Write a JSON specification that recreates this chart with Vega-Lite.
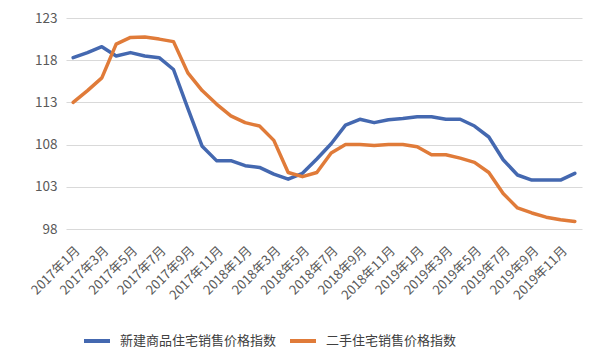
{
  "$schema": "https://vega.github.io/schema/vega-lite/v6.json",
  "autosize": {"type": "none"},
  "width": 516,
  "height": 211,
  "padding": {"left": 66, "top": 18, "right": 18, "bottom": 131},
  "background": "white",
  "config": {"view": {"stroke": null}, "font": "Noto Sans CJK SC"},
  "data": {"values": [
    {"month":"2017年1月","series":"新建商品住宅销售价格指数","value":118.3},
    {"month":"2017年2月","series":"新建商品住宅销售价格指数","value":118.9},
    {"month":"2017年3月","series":"新建商品住宅销售价格指数","value":119.6},
    {"month":"2017年4月","series":"新建商品住宅销售价格指数","value":118.5},
    {"month":"2017年5月","series":"新建商品住宅销售价格指数","value":118.9},
    {"month":"2017年6月","series":"新建商品住宅销售价格指数","value":118.5},
    {"month":"2017年7月","series":"新建商品住宅销售价格指数","value":118.3},
    {"month":"2017年8月","series":"新建商品住宅销售价格指数","value":116.9},
    {"month":"2017年9月","series":"新建商品住宅销售价格指数","value":112.3},
    {"month":"2017年10月","series":"新建商品住宅销售价格指数","value":107.8},
    {"month":"2017年11月","series":"新建商品住宅销售价格指数","value":106.1},
    {"month":"2017年12月","series":"新建商品住宅销售价格指数","value":106.1},
    {"month":"2018年1月","series":"新建商品住宅销售价格指数","value":105.5},
    {"month":"2018年2月","series":"新建商品住宅销售价格指数","value":105.3},
    {"month":"2018年3月","series":"新建商品住宅销售价格指数","value":104.5},
    {"month":"2018年4月","series":"新建商品住宅销售价格指数","value":103.9},
    {"month":"2018年5月","series":"新建商品住宅销售价格指数","value":104.6},
    {"month":"2018年6月","series":"新建商品住宅销售价格指数","value":106.3},
    {"month":"2018年7月","series":"新建商品住宅销售价格指数","value":108.1},
    {"month":"2018年8月","series":"新建商品住宅销售价格指数","value":110.3},
    {"month":"2018年9月","series":"新建商品住宅销售价格指数","value":111.0},
    {"month":"2018年10月","series":"新建商品住宅销售价格指数","value":110.6},
    {"month":"2018年11月","series":"新建商品住宅销售价格指数","value":110.95},
    {"month":"2018年12月","series":"新建商品住宅销售价格指数","value":111.1},
    {"month":"2019年1月","series":"新建商品住宅销售价格指数","value":111.3},
    {"month":"2019年2月","series":"新建商品住宅销售价格指数","value":111.3},
    {"month":"2019年3月","series":"新建商品住宅销售价格指数","value":111.0},
    {"month":"2019年4月","series":"新建商品住宅销售价格指数","value":111.0},
    {"month":"2019年5月","series":"新建商品住宅销售价格指数","value":110.2},
    {"month":"2019年6月","series":"新建商品住宅销售价格指数","value":108.9},
    {"month":"2019年7月","series":"新建商品住宅销售价格指数","value":106.2},
    {"month":"2019年8月","series":"新建商品住宅销售价格指数","value":104.4},
    {"month":"2019年9月","series":"新建商品住宅销售价格指数","value":103.8},
    {"month":"2019年10月","series":"新建商品住宅销售价格指数","value":103.8},
    {"month":"2019年11月","series":"新建商品住宅销售价格指数","value":103.8},
    {"month":"2019年12月","series":"新建商品住宅销售价格指数","value":104.6},
    {"month":"2017年1月","series":"二手住宅销售价格指数","value":113.0},
    {"month":"2017年2月","series":"二手住宅销售价格指数","value":114.4},
    {"month":"2017年3月","series":"二手住宅销售价格指数","value":115.9},
    {"month":"2017年4月","series":"二手住宅销售价格指数","value":119.9},
    {"month":"2017年5月","series":"二手住宅销售价格指数","value":120.7},
    {"month":"2017年6月","series":"二手住宅销售价格指数","value":120.75},
    {"month":"2017年7月","series":"二手住宅销售价格指数","value":120.5},
    {"month":"2017年8月","series":"二手住宅销售价格指数","value":120.2},
    {"month":"2017年9月","series":"二手住宅销售价格指数","value":116.5},
    {"month":"2017年10月","series":"二手住宅销售价格指数","value":114.4},
    {"month":"2017年11月","series":"二手住宅销售价格指数","value":112.8},
    {"month":"2017年12月","series":"二手住宅销售价格指数","value":111.4},
    {"month":"2018年1月","series":"二手住宅销售价格指数","value":110.6},
    {"month":"2018年2月","series":"二手住宅销售价格指数","value":110.2},
    {"month":"2018年3月","series":"二手住宅销售价格指数","value":108.5},
    {"month":"2018年4月","series":"二手住宅销售价格指数","value":104.7},
    {"month":"2018年5月","series":"二手住宅销售价格指数","value":104.2},
    {"month":"2018年6月","series":"二手住宅销售价格指数","value":104.7},
    {"month":"2018年7月","series":"二手住宅销售价格指数","value":107.0},
    {"month":"2018年8月","series":"二手住宅销售价格指数","value":108.0},
    {"month":"2018年9月","series":"二手住宅销售价格指数","value":108.0},
    {"month":"2018年10月","series":"二手住宅销售价格指数","value":107.9},
    {"month":"2018年11月","series":"二手住宅销售价格指数","value":108.0},
    {"month":"2018年12月","series":"二手住宅销售价格指数","value":108.0},
    {"month":"2019年1月","series":"二手住宅销售价格指数","value":107.75},
    {"month":"2019年2月","series":"二手住宅销售价格指数","value":106.8},
    {"month":"2019年3月","series":"二手住宅销售价格指数","value":106.8},
    {"month":"2019年4月","series":"二手住宅销售价格指数","value":106.4},
    {"month":"2019年5月","series":"二手住宅销售价格指数","value":105.9},
    {"month":"2019年6月","series":"二手住宅销售价格指数","value":104.7},
    {"month":"2019年7月","series":"二手住宅销售价格指数","value":102.2},
    {"month":"2019年8月","series":"二手住宅销售价格指数","value":100.5},
    {"month":"2019年9月","series":"二手住宅销售价格指数","value":99.9},
    {"month":"2019年10月","series":"二手住宅销售价格指数","value":99.4},
    {"month":"2019年11月","series":"二手住宅销售价格指数","value":99.1},
    {"month":"2019年12月","series":"二手住宅销售价格指数","value":98.9}
  ]},
  "mark": {"type": "line", "strokeWidth": 3.5, "strokeJoin": "round", "strokeCap": "round"},
  "encoding": {
    "x": {
      "field": "month", "type": "ordinal", "sort": null,
      "scale": {"type": "point", "padding": 0.5},
      "axis": {
        "title": null, "domain": false, "ticks": false, "grid": false,
        "values": ["2017年1月","2017年3月","2017年5月","2017年7月","2017年9月","2017年11月","2018年1月","2018年3月","2018年5月","2018年7月","2018年9月","2018年11月","2019年1月","2019年3月","2019年5月","2019年7月","2019年9月","2019年11月"],
        "labelAngle": -45, "labelFontSize": 13, "labelColor": "#595959",
        "labelPadding": 15, "labelFont": "Noto Sans CJK SC"
      }
    },
    "y": {
      "field": "value", "type": "quantitative",
      "scale": {"domain": [98, 123], "nice": false, "zero": false},
      "axis": {
        "title": null, "domain": false, "ticks": false,
        "values": [98, 103, 108, 113, 118, 123],
        "gridColor": "#d9d9d9", "gridWidth": 1,
        "labelFontSize": 13.5, "labelColor": "#595959", "labelPadding": 9
      }
    },
    "color": {
      "field": "series", "type": "nominal",
      "scale": {"domain": ["新建商品住宅销售价格指数", "二手住宅销售价格指数"], "range": ["#4468B0", "#E07B39"]},
      "legend": {
        "title": null, "orient": "none", "legendX": 16, "legendY": 308,
        "direction": "horizontal", "columns": 2,
        "symbolType": "stroke", "symbolSize": 676, "symbolStrokeWidth": 4,
        "labelFontSize": 13, "labelColor": "#404040", "labelOffset": 8,
        "labelLimit": 400, "columnPadding": 5
      }
    }
  }
}
